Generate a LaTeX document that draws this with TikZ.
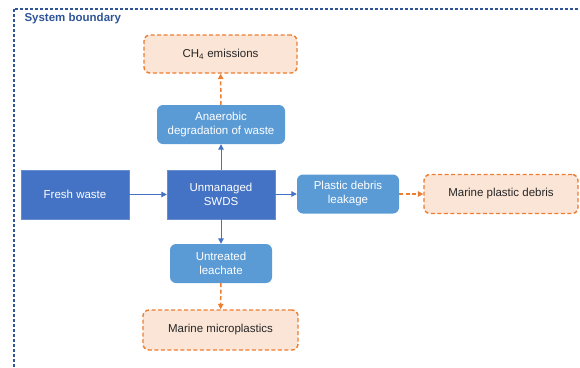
\documentclass[tikz,border=0pt]{standalone}
\usepackage{fontspec}
\setmainfont{Liberation Sans}
\usetikzlibrary{arrows.meta}
\definecolor{darkblue}{HTML}{4472C4}
\definecolor{lightblue}{HTML}{5B9BD5}
\definecolor{bndblue}{HTML}{2F5597}
\definecolor{orangeline}{HTML}{ED7D31}
\definecolor{orangefill}{HTML}{FBE5D6}
\tikzset{
  process/.style={fill=darkblue, draw=darkblue!80!white, text=white, inner sep=0pt, align=center, font=\fontsize{11.5}{14}\selectfont},
  subprocess/.style={fill=lightblue, rounded corners=6pt, text=white, inner sep=0pt, align=center, font=\fontsize{11.5}{14}\selectfont},
  fate/.style={fill=orangefill, draw=orangeline, line width=1.4pt, dash pattern=on 4pt off 2.5pt, rounded corners=6pt, text=black!85, inner sep=0pt, align=center, font=\fontsize{11.5}{14}\selectfont},
  flow/.style={draw=darkblue, line width=1pt, -{Triangle[length=5.5pt,width=5.5pt]}},
  leakflow/.style={draw=orangeline, line width=1.5pt, dash pattern=on 4pt off 2.5pt, -{Triangle[length=5.5pt,width=5.5pt]}}
}
\begin{document}
\begin{tikzpicture}[x=1pt,y=-1pt]
  \useasboundingbox (0,0) rectangle (580,367);
  \begin{scope}
   \clip (0,0) rectangle (580,367);
   \draw[bndblue, line width=1.2pt, dash pattern=on 3pt off 2pt] (14,9) rectangle (600,390);
  \end{scope}
  \node[anchor=west, text=bndblue, font=\fontsize{11.5}{14}\selectfont\bfseries] (title) at (21,19) {System boundary};

  % main chain
  \node[process, minimum width=108pt, minimum height=49pt] (fresh) at (75,194.5) {Fresh waste};
  \node[process, minimum width=108pt, minimum height=49pt] (swds) at (221,194.5) {Unmanaged\\SWDS};

  % pathways
  \node[subprocess, minimum width=128pt, minimum height=39pt] (anaer) at (221,124.5) {Anaerobic\\degradation of waste};
  \node[subprocess, minimum width=102pt, minimum height=39pt] (leak) at (348,194) {Plastic debris\\leakage};
  \node[subprocess, minimum width=102pt, minimum height=39pt] (leach) at (221,263.5) {Untreated\\leachate};

  % fates
  \node[fate, minimum width=153pt, minimum height=38pt] (methane) at (220.5,54) {CH\textsubscript{4} emissions};
  \node[fate, minimum width=154pt, minimum height=39pt] (debris) at (501,194) {Marine plastic debris};
  \node[fate, minimum width=155pt, minimum height=40pt] (micro) at (220.5,330) {Marine microplastics};

  \draw[flow] (fresh) -- (swds);
  \draw[flow] (swds) -- (anaer);
  \draw[flow] (swds.east |- leak.west) -- (leak);
  \draw[flow] (swds) -- (leach);
  \draw[leakflow] (anaer) -- (methane);
  \draw[leakflow] (leak) -- (debris);
  \draw[leakflow] (leach) -- (micro);
\end{tikzpicture}
\end{document}
